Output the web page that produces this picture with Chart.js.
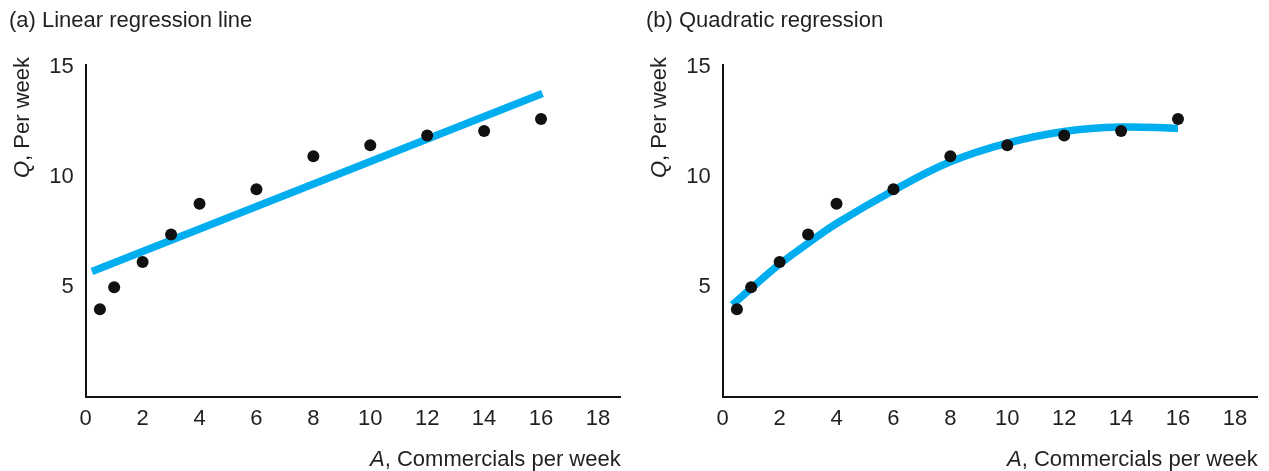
<!DOCTYPE html>
<html>
<head>
<meta charset="utf-8">
<script src="https://cdn.jsdelivr.net/npm/chart.js@4.4.1/dist/chart.umd.min.js"></script>
<style>
  html, body { margin: 0; padding: 0; background: #fff; }
  #wrap { position: relative; width: 1269px; height: 471px; }
  canvas { position: absolute; top: 0; }
  #left { left: 0; }
  #right { left: 637px; }
</style>
</head>
<body>
<div id="wrap">
  <canvas id="left" width="632" height="471"></canvas>
  <canvas id="right" width="632" height="471"></canvas>
</div>
<script>
// observed data: commercials per week (A) and quantity per week (Q)
const commercials = [0.5, 1, 2, 3, 4, 6, 8, 10, 12, 14, 16];
const quantity = [4.0, 5.0, 6.15, 7.4, 8.8, 9.45, 10.95, 11.45, 11.9, 12.1, 12.65];

// fitted linear regression line (ends)
const linearA = [0.22, 16.05];
const linearQ = [5.72, 13.8];

// fitted quadratic curve
const quadA = [0.34, 1, 2, 3, 4, 6, 8, 10, 12, 14, 16];
const quadQ = [4.2, 4.95, 6.05, 7.0, 7.9, 9.4, 10.7, 11.55, 12.08, 12.28, 12.22];

const xTicks = [0, 2, 4, 6, 8, 10, 12, 14, 16, 18];
const yTicks = [5, 10, 15];

const FAMILY = '"Liberation Sans", Arial, Helvetica, sans-serif';
const TEXT = '#231f20';
const SIZE = 22;

// titles and axis titles (with italic variable letter)
const panelText = {
  id: 'panelText',
  afterDraw(chart, args, opts) {
    const ctx = chart.ctx;
    const area = chart.chartArea;
    const normal = SIZE + 'px ' + FAMILY;
    const italic = 'italic ' + SIZE + 'px ' + FAMILY;
    ctx.save();
    ctx.fillStyle = TEXT;
    ctx.textBaseline = 'middle';
    ctx.textAlign = 'left';
    ctx.font = normal;
    ctx.fillText(opts.title, 9, 21);

    // x axis title, right aligned to the axis end
    ctx.font = italic;
    const wA = ctx.measureText(opts.xVar).width;
    ctx.font = normal;
    const wX = ctx.measureText(opts.xRest).width;
    const x0 = area.right - wA - wX;
    ctx.font = italic;
    ctx.fillText(opts.xVar, x0, 460);
    ctx.font = normal;
    ctx.fillText(opts.xRest, x0 + wA, 460);

    // y axis title, rotated, ending near the top of the axis
    ctx.font = italic;
    const wQ = ctx.measureText(opts.yVar).width;
    ctx.font = normal;
    const wY = ctx.measureText(opts.yRest).width;
    ctx.translate(22.5, 57);
    ctx.rotate(-Math.PI / 2);
    ctx.font = italic;
    ctx.fillText(opts.yVar, -(wQ + wY), 0);
    ctx.font = normal;
    ctx.fillText(opts.yRest, -wY, 0);
    ctx.restore();
  }
};

function makeChart(id, title, fitA, fitQ, curved) {
  const dots = commercials.map((a, i) => ({ x: a, y: quantity[i] }));
  const fit = fitA.map((a, i) => ({ x: a, y: fitQ[i] }));
  return new Chart(document.getElementById(id), {
    type: 'scatter',
    data: {
      datasets: [
        {
          data: dots,
          pointRadius: 6,
          pointBackgroundColor: '#111',
          pointBorderWidth: 0,
          showLine: false
        },
        {
          data: fit,
          showLine: true,
          pointRadius: 0,
          borderColor: '#00aeef',
          borderWidth: 7.5,
          borderCapStyle: 'butt',
          tension: curved ? 0.4 : 0
        }
      ]
    },
    options: {
      responsive: false,
      animation: false,
      events: [],
      layout: { padding: { top: 65, right: 11.3, left: 0, bottom: 0 } },
      plugins: {
        legend: { display: false },
        tooltip: { enabled: false },
        panelText: {
          title: title,
          xVar: 'A', xRest: ', Commercials per week',
          yVar: 'Q', yRest: ', Per week'
        }
      },
      scales: {
        x: {
          type: 'linear',
          min: 0,
          max: 18.8,
          afterBuildTicks: s => { s.ticks = xTicks.map(v => ({ value: v })); },
          afterFit: s => { s.height = 471 - 397.3; },
          grid: { display: false, drawTicks: false },
          border: { display: true, color: '#111', width: 2 },
          ticks: { font: { family: FAMILY, size: SIZE }, color: TEXT, padding: 8, maxRotation: 0, autoSkip: false }
        },
        y: {
          type: 'linear',
          min: 0,
          max: 15.1,
          afterBuildTicks: s => { s.ticks = yTicks.map(v => ({ value: v })); },
          afterFit: s => { s.width = 85.7; },
          grid: { display: false, drawTicks: false },
          border: { display: true, color: '#111', width: 2 },
          ticks: { font: { family: FAMILY, size: SIZE }, color: TEXT, padding: 12 }
        }
      }
    },
    plugins: [panelText]
  });
}

makeChart('left', '(a) Linear regression line', linearA, linearQ, false);
makeChart('right', '(b) Quadratic regression', quadA, quadQ, true);
</script>
</body>
</html>
